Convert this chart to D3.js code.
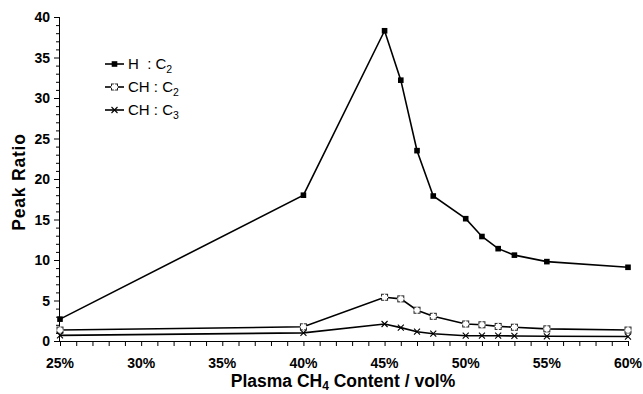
<!DOCTYPE html>
<html>
<head>
<meta charset="utf-8">
<script src="https://cdn.jsdelivr.net/npm/d3@7"></script>
<style>
  body { margin: 0; background: #fff; }
  svg text { font-family: "Liberation Sans", Arial, sans-serif; fill: #000; }
</style>
</head>
<body>
<svg id="chart" width="643" height="394"></svg>
<script>
// podatki
const ch4 = [25, 40, 45, 46, 47, 48, 50, 51, 52, 53, 55, 60];
const hC2 = [2.7, 18.0, 38.3, 32.2, 23.5, 17.9, 15.1, 12.9, 11.4, 10.6, 9.8, 9.1];
const chC2 = [1.35, 1.75, 5.4, 5.2, 3.8, 3.05, 2.1, 2.0, 1.8, 1.7, 1.5, 1.35];
const chC3 = [0.7, 1.0, 2.1, 1.65, 1.15, 0.9, 0.65, 0.65, 0.65, 0.62, 0.58, 0.55];
const xTicks = [25, 30, 35, 40, 45, 50, 55, 60];
const yTicks = [0, 5, 10, 15, 20, 25, 30, 35, 40];

const series = [
  { name: "H", sub: "2", sep: "  : C", values: hC2, marker: "square" },
  { name: "CH", sub: "2", sep: " : C", values: chC2, marker: "hash" },
  { name: "CH", sub: "3", sep: " : C", values: chC3, marker: "cross" }
];

const svg = d3.select("#chart");
const margin = { left: 59, right: 15, top: 17, bottom: 53 };

const x = d3.scaleLinear().domain([25, 60]).range([margin.left + 1, 628]);
const y = d3.scaleLinear().domain([0, 40]).range([341, margin.top]);

// osi ------------------------------------------------------------
const xAxis = svg.append("g")
  .attr("transform", `translate(0, ${y(0)})`)
  .call(d3.axisBottom(x).tickValues(d3.range(25, 61, 1)).tickSize(5).tickFormat(""));
xAxis.select(".domain").attr("d", `M${margin.left},0.5H${x(60)}`);

xAxis.selectAll(".lbl")
  .data(xTicks)
  .enter().append("text")
    .attr("x", d => x(d))
    .attr("y", 27)
    .attr("text-anchor", "middle")
    .style("font-size", "14px")
    .style("font-weight", "bold")
    .text(d => d + "%");

const yAxis = svg.append("g")
  .attr("transform", `translate(${margin.left}, 0)`);
yAxis.call(d3.axisLeft(y).tickValues(d3.range(0, 41, 1)).tickSize(3).tickFormat(""));
yAxis.call(g => g.selectAll(".tick line").filter(d => d % 5 === 0).attr("x2", -5));
yAxis.select(".domain").attr("d", `M0.5,${y(40)}V${y(0)}`);

yAxis.selectAll(".lbl")
  .data(yTicks)
  .enter().append("text")
    .attr("x", -9)
    .attr("y", d => y(d))
    .attr("dy", "0.36em")
    .attr("text-anchor", "end")
    .style("font-size", "14px")
    .style("font-weight", "bold")
    .text(d => d);

svg.selectAll(".domain, .tick line").attr("stroke", "#000").attr("stroke-width", 1);

// naslovi osi
const xt = svg.append("text")
  .attr("x", 343)
  .attr("y", 387)
  .attr("text-anchor", "middle")
  .style("font-size", "17.5px")
  .style("font-weight", "bold");
xt.append("tspan").text("Plasma CH");
xt.append("tspan").attr("dy", 3).style("font-size", "12px").text("4");
xt.append("tspan").attr("dy", -3).text(" Content / vol%");

svg.append("text")
  .attr("transform", `translate(25, 182) rotate(-90)`)
  .attr("text-anchor", "middle")
  .style("font-size", "17.5px")
  .style("font-weight", "bold")
  .style("letter-spacing", "0.8px")
  .text("Peak Ratio");

// markerji -------------------------------------------------------
function drawMarker(g, type, cx, cy) {
  if (type === "square") {
    g.append("rect").attr("x", cx - 2.8).attr("y", cy - 2.8).attr("width", 5.6).attr("height", 5.6)
      .attr("fill", "#000");
  } else if (type === "hash") {
    g.append("rect").attr("x", cx - 3).attr("y", cy - 3).attr("width", 6).attr("height", 6)
      .attr("fill", "#fff").attr("stroke", "#222").attr("stroke-width", 1);
    g.append("path").attr("d", `M${cx},${cy - 3.5}V${cy + 3.5}M${cx - 3.5},${cy}H${cx + 3.5}`)
      .attr("stroke", "#fff").attr("stroke-width", 1.3);
  } else {
    g.append("path")
      .attr("d", `M${cx - 3},${cy - 3}L${cx + 3},${cy + 3}M${cx - 3},${cy + 3}L${cx + 3},${cy - 3}`)
      .attr("stroke", "#000").attr("stroke-width", 1.1).attr("fill", "none");
  }
}

const line = d3.line()
  .x(d => x(d[0]))
  .y(d => y(d[1]));

series.forEach(s => {
  const pts = ch4.map((c, i) => [c, s.values[i]]);
  const g = svg.append("g");
  g.append("path")
    .datum(pts)
    .attr("d", line)
    .attr("fill", "none")
    .attr("stroke", "#000")
    .attr("stroke-width", 1.6);
  pts.forEach(p => drawMarker(g, s.marker, x(p[0]), y(p[1])));
});

// legenda --------------------------------------------------------
const leg = svg.append("g");
series.forEach((s, i) => {
  const ly = 64 + i * 23;
  leg.append("line")
    .attr("x1", 105).attr("x2", 124)
    .attr("y1", ly).attr("y2", ly)
    .attr("stroke", "#000").attr("stroke-width", 1.6);
  drawMarker(leg, s.marker, 114.5, ly);
  const t = leg.append("text")
    .attr("x", 128)
    .attr("y", ly + 5)
    .style("font-size", "15px")
    .style("white-space", "pre")
    .attr("xml:space", "preserve");
  t.append("tspan").text(s.name + s.sep);
  t.append("tspan").attr("dy", 3.5).style("font-size", "10.5px").text(s.sub);
});
</script>
</body>
</html>
